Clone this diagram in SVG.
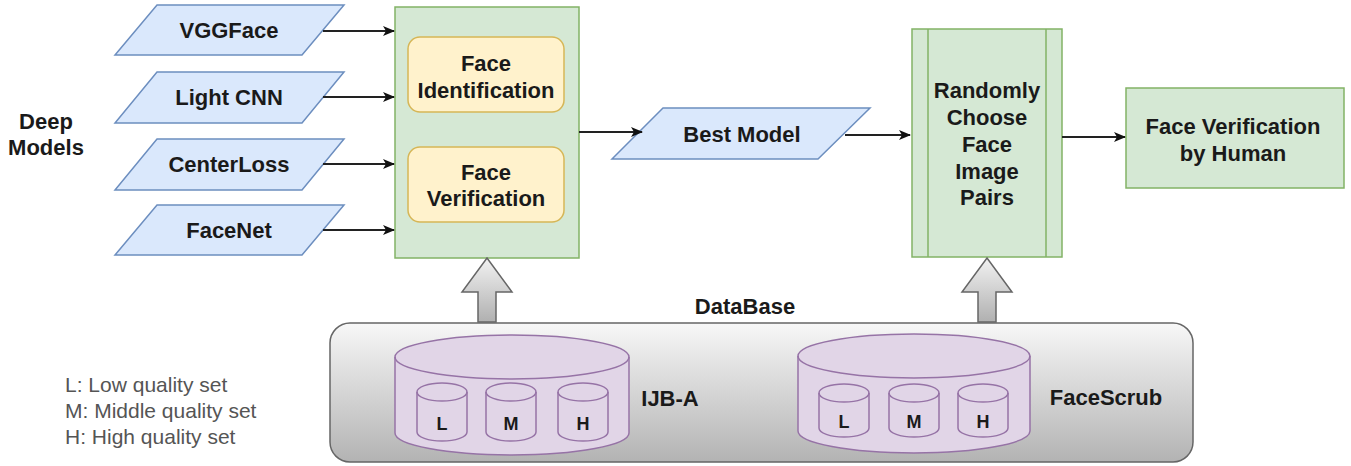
<svg xmlns="http://www.w3.org/2000/svg" width="1351" height="466" viewBox="0 0 1351 466">
<style>
text{font-family:"Liberation Sans",Arial,sans-serif;fill:#1a1a1a;text-anchor:middle;dominant-baseline:central}
.b{font-weight:bold;font-size:22px}
.s{font-weight:bold;font-size:18px}
.leg{font-size:21px;fill:#555;text-anchor:start}
.para{fill:#dae8fc;stroke:#6c8ebf;stroke-width:1.5}
.green{fill:#d5e8d4;stroke:#82b366;stroke-width:1.5}
.yel{fill:#fff2cc;stroke:#d6b656;stroke-width:1.5}
.cyl{fill:#e1d5e7;stroke:#9673a6;stroke-width:1.5}
.conn{stroke:#222;stroke-width:1.8;fill:none;marker-end:url(#ah)}
.blk{fill:url(#gArrow);stroke:#666;stroke-width:1.5}
</style>
<defs>
<marker id="ah" markerWidth="12" markerHeight="10" refX="11" refY="5" orient="auto" markerUnits="userSpaceOnUse">
<path d="M0,0 L12,5 L0,10 L3,5 Z" fill="#111"/>
</marker>
<linearGradient id="gDb" x1="0" y1="0" x2="0" y2="1">
<stop offset="0" stop-color="#f7f7f7"/>
<stop offset="1" stop-color="#b3b3b3"/>
</linearGradient>
<linearGradient id="gArrow" x1="0" y1="0" x2="0" y2="1">
<stop offset="0" stop-color="#f2f2f2"/>
<stop offset="1" stop-color="#b0b0b0"/>
</linearGradient>
</defs>

<g id="deep-models-label">
<text class="b" x="46" y="121">Deep</text>
<text class="b" x="46" y="147">Models</text>
</g>

<g id="vggface"><path class="para" d="M157,5 L344,5 L302,55 L115,55 Z"/><text class="b" x="229" y="30">VGGFace</text></g>
<g id="lightcnn"><path class="para" d="M157,72 L344,72 L302,123 L115,123 Z"/><text class="b" x="229" y="97">Light CNN</text></g>
<g id="centerloss"><path class="para" d="M157,139 L344,139 L302,190 L115,190 Z"/><text class="b" x="229" y="164">CenterLoss</text></g>
<g id="facenet"><path class="para" d="M157,205 L344,205 L302,255 L115,255 Z"/><text class="b" x="229" y="230">FaceNet</text></g>

<g id="eval-box">
<rect class="green" x="395" y="7" width="184" height="251"/>
</g>
<g id="face-identification">
<rect class="yel" x="408" y="37" width="156" height="75" rx="12"/>
<text class="b" x="486" y="63">Face</text>
<text class="b" x="486" y="90">Identification</text>
</g>
<g id="face-verification">
<rect class="yel" x="408" y="147" width="156" height="75" rx="12"/>
<text class="b" x="486" y="172">Face</text>
<text class="b" x="486" y="198">Verification</text>
</g>

<g id="best-model"><path class="para" d="M663,108 L870,108 L818,159 L612,159 Z"/><text class="b" x="742" y="134">Best Model</text></g>

<g id="random-choose">
<rect class="green" x="912" y="29" width="150" height="228"/>
<line x1="928" y1="29" x2="928" y2="257" stroke="#82b366" stroke-width="1.5"/>
<line x1="1046" y1="29" x2="1046" y2="257" stroke="#82b366" stroke-width="1.5"/>
<text class="b" x="987" y="90">Randomly</text>
<text class="b" x="987" y="117">Choose</text>
<text class="b" x="987" y="144">Face</text>
<text class="b" x="987" y="171">Image</text>
<text class="b" x="987" y="197">Pairs</text>
</g>

<g id="human-verification">
<rect class="green" x="1126" y="88" width="218" height="100"/>
<text class="b" x="1233" y="126">Face Verification</text>
<text class="b" x="1233" y="153">by Human</text>
</g>

<g id="database">
<rect x="330" y="323" width="863" height="139" rx="20" fill="url(#gDb)" stroke="#666" stroke-width="1.5"/>
<text class="b" x="745" y="306">DataBase</text>
</g>

<g id="ijba">
<path class="cyl" d="M395,357 A117,22 0 0 1 629,357 L629,433 A117,22 0 0 1 395,433 Z"/>
<path d="M395,357 A117,22 0 0 0 629,357" fill="none" stroke="#9673a6" stroke-width="1.5"/>
<path class="cyl" d="M417,392 A25,9 0 0 1 467,392 L467,432 A25,9 0 0 1 417,432 Z"/>
<path d="M417,392 A25,9 0 0 0 467,392" fill="none" stroke="#9673a6" stroke-width="1.5"/>
<path class="cyl" d="M486,392 A25,9 0 0 1 536,392 L536,432 A25,9 0 0 1 486,432 Z"/>
<path d="M486,392 A25,9 0 0 0 536,392" fill="none" stroke="#9673a6" stroke-width="1.5"/>
<path class="cyl" d="M558,392 A25,9 0 0 1 608,392 L608,432 A25,9 0 0 1 558,432 Z"/>
<path d="M558,392 A25,9 0 0 0 608,392" fill="none" stroke="#9673a6" stroke-width="1.5"/>
<text class="s" x="442" y="424">L</text>
<text class="s" x="511" y="424">M</text>
<text class="s" x="583" y="424">H</text>
<text class="b" x="670" y="398">IJB-A</text>
</g>

<g id="facescrub">
<path class="cyl" d="M798,356 A116,22 0 0 1 1030,356 L1030,431 A116,22 0 0 1 798,431 Z"/>
<path d="M798,356 A116,22 0 0 0 1030,356" fill="none" stroke="#9673a6" stroke-width="1.5"/>
<path class="cyl" d="M819,393 A25,9 0 0 1 869,393 L869,428 A25,9 0 0 1 819,428 Z"/>
<path d="M819,393 A25,9 0 0 0 869,393" fill="none" stroke="#9673a6" stroke-width="1.5"/>
<path class="cyl" d="M889,393 A25,9 0 0 1 939,393 L939,428 A25,9 0 0 1 889,428 Z"/>
<path d="M889,393 A25,9 0 0 0 939,393" fill="none" stroke="#9673a6" stroke-width="1.5"/>
<path class="cyl" d="M958,393 A25,9 0 0 1 1008,393 L1008,428 A25,9 0 0 1 958,428 Z"/>
<path d="M958,393 A25,9 0 0 0 1008,393" fill="none" stroke="#9673a6" stroke-width="1.5"/>
<text class="s" x="844" y="422">L</text>
<text class="s" x="914" y="422">M</text>
<text class="s" x="983" y="422">H</text>
<text class="b" x="1106" y="397">FaceScrub</text>
</g>

<g id="legend">
<text class="leg" x="65" y="384">L: Low quality set</text>
<text class="leg" x="65" y="410">M: Middle quality set</text>
<text class="leg" x="65" y="436">H: High quality set</text>
</g>

<g id="connectors">
<line class="conn" x1="323" y1="31" x2="394" y2="31"/>
<line class="conn" x1="323" y1="97" x2="394" y2="97"/>
<line class="conn" x1="323" y1="164" x2="394" y2="164"/>
<line class="conn" x1="323" y1="230" x2="394" y2="230"/>
<line class="conn" x1="579" y1="132" x2="642" y2="132"/>
<line class="conn" x1="845" y1="135" x2="910" y2="135"/>
<line class="conn" x1="1062" y1="137" x2="1125" y2="137"/>
<path class="blk" d="M487,258 L512,292 L496,292 L496,322 L478,322 L478,292 L462,292 Z"/>
<path class="blk" d="M987,258 L1012,292 L996,292 L996,322 L978,322 L978,292 L962,292 Z"/>
</g>
</svg>
